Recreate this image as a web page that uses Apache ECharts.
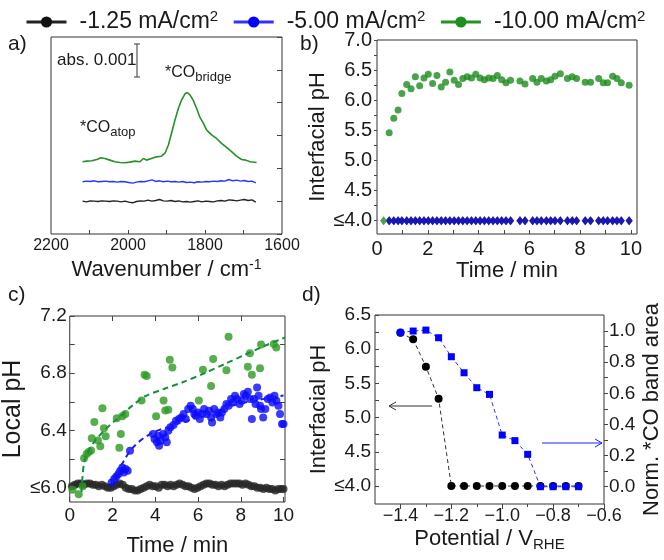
<!DOCTYPE html>
<html><head><meta charset="utf-8">
<script src="https://cdn.jsdelivr.net/npm/echarts@6/dist/echarts.min.js"></script>
<style>html,body{margin:0;padding:0;background:#fff}#c{width:664px;height:560px}</style>
</head><body><div id="c"></div><script>
// ---------- data ----------
const legendNames = ['-1.25 mA/cm2', '-5.00 mA/cm2', '-10.00 mA/cm2'];

// panel a: spectra [wavenumber, offset absorbance (units of 0.001)]
const specBlack = [[2118,1.00],[2108,0.98],[2098,1.01],[2088,1.00],[2078,0.99],[2068,1.01],[2058,1.00],[2048,0.99],[2038,1.01],[2028,1.00],[2018,0.98],[2008,1.00],[1998,0.97],[1988,0.95],[1978,0.99],[1968,1.01],[1958,1.00],[1948,1.03],[1938,1.00],[1928,1.02],[1918,1.05],[1908,1.01],[1898,1.00],[1888,1.02],[1878,0.99],[1868,1.01],[1858,0.98],[1848,0.99],[1838,0.97],[1828,0.99],[1818,1.01],[1808,0.98],[1798,1.00],[1788,0.99],[1778,0.98],[1768,1.01],[1758,1.02],[1748,1.00],[1738,1.04],[1728,1.03],[1718,1.01],[1708,1.03],[1698,1.05],[1688,1.02],[1678,1.04],[1668,0.97]];
const specBlue = [[2118,1.59],[2108,1.61],[2098,1.60],[2088,1.62],[2078,1.59],[2068,1.60],[2058,1.61],[2048,1.59],[2038,1.60],[2028,1.58],[2018,1.60],[2008,1.59],[1998,1.57],[1988,1.55],[1978,1.58],[1968,1.60],[1958,1.59],[1948,1.62],[1938,1.65],[1928,1.60],[1918,1.62],[1908,1.59],[1898,1.61],[1888,1.59],[1878,1.60],[1868,1.58],[1858,1.60],[1848,1.57],[1838,1.58],[1828,1.56],[1818,1.59],[1808,1.58],[1798,1.60],[1788,1.59],[1778,1.61],[1768,1.60],[1758,1.62],[1748,1.61],[1738,1.66],[1728,1.62],[1718,1.64],[1708,1.61],[1698,1.63],[1688,1.60],[1678,1.61],[1668,1.56]];
const specGreen = [[2118,2.20],[2107,2.22],[2094,2.23],[2081,2.27],[2070,2.32],[2060,2.30],[2047,2.25],[2034,2.20],[2021,2.18],[2008,2.17],[1995,2.19],[1982,2.22],[1969,2.20],[1960,2.30],[1952,2.25],[1939,2.30],[1926,2.35],[1913,2.37],[1904,2.46],[1895,2.71],[1887,3.07],[1878,3.47],[1869,3.83],[1861,4.08],[1852,4.27],[1846,4.31],[1839,4.24],[1830,4.06],[1822,3.83],[1813,3.55],[1804,3.37],[1796,3.17],[1783,3.02],[1770,2.91],[1757,2.76],[1744,2.64],[1731,2.51],[1718,2.37],[1705,2.27],[1694,2.25],[1683,2.20],[1666,2.18]];

// panel b: interfacial pH vs time
const bTime = [0.48,0.66,0.83,0.98,1.17,1.34,1.51,1.68,1.85,2.02,2.19,2.36,2.53,2.70,2.87,3.04,3.21,3.38,3.55,3.72,3.89,4.06,4.23,4.40,4.57,4.74,4.91,5.08,5.26,5.63,5.83,6.13,6.30,6.47,6.67,6.84,7.01,7.22,7.50,7.69,7.86,8.20,8.41,8.73,8.91,9.08,9.28,9.45,9.62,9.93];
const bGreen = [5.46,5.70,5.84,6.11,6.26,6.19,6.39,6.24,6.37,6.43,6.28,6.41,6.22,6.30,6.47,6.33,6.26,6.36,6.39,6.37,6.43,6.37,6.34,6.37,6.36,6.41,6.34,6.29,6.33,6.32,6.27,6.36,6.30,6.36,6.32,6.34,6.40,6.44,6.36,6.39,6.36,6.30,6.30,6.36,6.29,6.29,6.40,6.36,6.29,6.25];
const bGreenStart = [0.26, 4.0];
const bBlue = [4,4,4,4,4,4,4,4,4,4,4,4,4,4,4,4,4,4,4,4,4,4,4,4,4,4,4,4,4,4,4,4,4,4,4,4,4,4,4,4,4,4,4,4,4,4,4,4,4,4];
const bBlack = [4,4,4,4,4,4,4,4,4,4,4,4,4,4,4,4,4,4,4,4,4,4,4,4,4,4,4,4,4,4,4,4,4,4,4,4,4,4,4,4,4,4,4,4,4,4,4,4,4,4];

// panel c: local pH vs time [t, pH]
const cBlack = [[0.10,6.01],[0.24,6.02],[0.38,6.03],[0.52,6.03],[0.66,6.02],[0.80,6.03],[0.94,6.03],[1.08,6.02],[1.22,6.02],[1.36,6.01],[1.50,6.02],[1.64,6.01],[1.78,6.00],[1.92,6.00],[2.06,6.01],[2.20,6.02],[2.34,6.03],[2.48,6.02],[2.62,6.00],[2.76,5.99],[2.90,5.99],[3.04,5.98],[3.18,5.98],[3.32,5.99],[3.46,6.00],[3.60,6.01],[3.74,6.02],[3.88,6.01],[4.02,6.01],[4.16,6.00],[4.30,6.02],[4.44,6.02],[4.58,6.01],[4.72,6.02],[4.86,6.01],[5.00,6.02],[5.14,6.03],[5.28,6.02],[5.42,6.01],[5.56,6.01],[5.70,6.00],[5.84,5.99],[5.98,6.00],[6.12,6.01],[6.26,6.02],[6.40,6.03],[6.54,6.03],[6.68,6.02],[6.82,6.02],[6.96,6.01],[7.10,6.02],[7.24,6.01],[7.38,6.02],[7.52,6.03],[7.66,6.03],[7.80,6.03],[7.94,6.03],[8.08,6.02],[8.22,6.03],[8.36,6.02],[8.50,6.01],[8.64,6.01],[8.78,6.00],[8.92,6.00],[9.06,5.99],[9.20,6.00],[9.34,5.99],[9.48,5.99],[9.62,5.98],[9.76,5.99],[9.90,5.99],[10.0,5.99]];
const cBlue = [[1.96,6.037],[2.08,6.06],[2.18,6.079],[2.28,6.095],[2.36,6.119],[2.46,6.142],[2.53,6.107],[2.61,6.13],[2.71,6.119],[2.82,6.258],[3.895,6.375],[3.966,6.34],[4.081,6.317],[4.138,6.363],[4.181,6.293],[4.253,6.328],[4.367,6.375],[4.468,6.352],[4.539,6.317],[4.611,6.398],[4.711,6.422],[4.854,6.438],[4.969,6.468],[5.112,6.48],[5.226,6.491],[5.326,6.515],[5.426,6.48],[5.541,6.55],[5.656,6.573],[5.756,6.55],[5.828,6.515],[5.899,6.503],[6.0,6.526],[6.085,6.48],[6.186,6.515],[6.286,6.55],[6.4,6.515],[6.515,6.538],[6.615,6.491],[6.658,6.456],[6.758,6.55],[6.859,6.515],[6.945,6.526],[7.045,6.491],[7.116,6.526],[7.231,6.55],[7.331,6.585],[7.431,6.573],[7.546,6.62],[7.632,6.596],[7.732,6.643],[7.832,6.62],[7.947,6.585],[8.047,6.608],[8.147,6.655],[8.233,6.643],[8.333,6.671],[8.433,6.62],[8.52,6.48],[8.62,6.62],[8.691,6.585],[8.763,6.701],[8.835,6.643],[8.906,6.573],[8.95,6.55],[9.049,6.491],[9.15,6.55],[9.264,6.62],[9.379,6.631],[9.479,6.596],[9.579,6.643],[9.665,6.608],[9.765,6.573],[9.837,6.515],[9.93,6.445],[10.0,6.445]];
const cGreen = [[0.13,5.985],[0.42,5.955],[0.6,6.01],[0.67,6.205],[0.79,6.235],[0.89,6.25],[1.0,6.26],[1.03,6.345],[1.15,6.46],[1.32,6.33],[1.43,6.29],[1.53,6.555],[1.6,6.415],[1.68,6.36],[2.2,6.485],[2.32,6.28],[2.39,6.375],[2.46,6.5],[2.6,6.515],[3.36,6.61],[3.5,6.79],[3.6,6.78],[4.04,6.5],[4.39,6.61],[4.47,6.54],[4.61,6.545],[4.68,6.895],[4.8,6.84],[6.04,6.61],[6.23,6.825],[6.61,6.71],[6.71,6.9],[7.33,6.82],[7.43,7.055],[8.33,6.845],[8.43,6.94],[8.52,6.79],[8.9,6.835],[8.95,7.0],[9.55,7.005],[9.66,6.98]];
const cGreenFit = [[0.55,5.97],[0.60,6.08],[0.68,6.18],[0.85,6.25],[1.2,6.33],[1.75,6.42],[2.25,6.485],[2.9,6.57],[3.54,6.64],[4.4,6.69],[5.25,6.735],[6.3,6.80],[7.26,6.865],[8.2,6.93],[9.1,6.99],[10.07,7.05]];
const cBlueFit = [[1.95,6.03],[2.2,6.10],[2.5,6.18],[2.89,6.27],[3.4,6.34],[3.96,6.39],[4.7,6.43],[5.54,6.47],[6.5,6.52],[7.55,6.573],[8.7,6.61],[10.0,6.645]];

// panel d: potential dependence
const dPotential = [-1.4,-1.35,-1.3,-1.25,-1.2,-1.15,-1.1,-1.05,-1.0,-0.95,-0.9,-0.85,-0.8,-0.75,-0.7];
const dPH = [6.24,6.145,5.745,5.276,4.0,4.0,4.0,4.0,4.0,4.0,4.0,4.0,4.0,4.0,4.0];
const dCO = [0.99,1.0,1.006,0.957,0.835,0.732,0.636,0.593,0.332,0.296,0.208,0.0,0.0,0.0,0.0];

// tick labels
const aTickLabels = [2200,2000,1800,1600];
const aTicks = [2100,2000,1900,1800,1700];
const bXLabels = [0,2,4,6,8,10];
const bXTicks = [1,2,3,4,5,6,7,8,9,10];
const bYLabels = [4,4.5,5,5.5,6,6.5,7];
const bYTicks = [4,4.25,4.5,4.75,5,5.25,5.5,5.75,6,6.25,6.5,6.75,7];
const cXLabels = [0,2,4,6,8,10];
const cYLabels = [6.0,6.4,6.8,7.2];
const cYTicks = [6.0,6.2,6.4,6.6,6.8,7.0,7.2];
const dXLabels = [-1.4,-1.2,-1.0,-0.8,-0.6];
const dXMinor = [-1.3,-1.1,-0.9,-0.7];
const dYLabels = [4,4.5,5,5.5,6,6.5];
const dYTicks = [4,4.25,4.5,4.75,5,5.25,5.5,5.75,6,6.25,6.5];
const dY2Labels = [0,0.2,0.4,0.6,0.8,1.0];
const dY2Ticks = [0,0.1,0.2,0.3,0.4,0.5,0.6,0.7,0.8,0.9,1.0];

// ---------- chart ----------
const FONT = '"Liberation Sans", Arial, sans-serif';
const BLACK = '#111111', BLUE = '#0000ff', GREEN = '#1f8f1f';
const TXT = '#1a1a1a', AX = '#444';
const chart = echarts.init(document.getElementById('c'), null, {renderer: 'canvas'});

const pts = (xs, ys) => xs.map((x, i) => [x, ys[i]]);
const NOLINE = {show: false, onZero: false};

function gridStyle(o) { return Object.assign({show: true, borderColor: '#333', borderWidth: 1, containLabel: false}, o); }
const nameStyle = (size) => ({fontSize: size, color: TXT, fontFamily: FONT,
  rich: {sup: {fontSize: 14, fontFamily: FONT, color: TXT, padding: [0,0,10,0]},
         sub: {fontSize: 15, fontFamily: FONT, color: TXT, padding: [11,0,0,0]}}});

const option = {
  animation: false,
  backgroundColor: '#fff',
  textStyle: {fontFamily: FONT},
  legend: {
    data: legendNames, top: 4, left: 20, width: 644, itemWidth: 40, itemHeight: 14, itemGap: 14,
    selectedMode: false, lineStyle: {width: 3},
    formatter: n => n.replace('cm2', 'cm{sup|2}'),
    textStyle: {fontSize: 23, color: TXT, fontFamily: FONT, padding: [0,0,0,8],
      rich: {sup: {fontSize: 15, fontFamily: FONT, color: TXT, padding: [0,0,11,0]}}}
  },
  grid: [
    gridStyle({left: 51, top: 37, width: 231, height: 197}),
    gridStyle({left: 377, top: 40, width: 260, height: 194}),
    gridStyle({left: 51, top: 316, width: 234, height: 186}),
    gridStyle({left: 375, top: 315, width: 235, height: 189})
  ],
  xAxis: [
    {gridIndex: 0, type: 'value', inverse: true, min: 1600, max: 2200,
     axisLine: NOLINE, splitLine: {show: false},
     axisTick: {inside: true, length: 4, customValues: aTicks, lineStyle: {color: AX}},
     axisLabel: {customValues: aTickLabels, fontSize: 16, color: TXT, margin: 4, formatter: v => String(v)},
     name: 'Wavenumber / cm{sup|-1}', nameLocation: 'middle', nameGap: 24, nameTextStyle: nameStyle(22)},
    {gridIndex: 1, type: 'value', position: 'bottom', min: 0, max: 10.24,
     axisLine: NOLINE, splitLine: {show: false},
     axisTick: {inside: true, length: 4, customValues: bXTicks, lineStyle: {color: AX}},
     axisLabel: {customValues: bXLabels, fontSize: 20, color: TXT, margin: 5, formatter: v => String(v)},
     name: 'Time / min', nameLocation: 'middle', nameGap: 26, nameTextStyle: nameStyle(22)},
    {gridIndex: 2, type: 'value', position: 'bottom', min: 0, max: 10.07,
     axisLine: NOLINE, splitLine: {show: false},
     axisTick: {inside: true, length: 5, customValues: cXLabels, lineStyle: {color: AX}},
     axisLabel: {customValues: cXLabels, fontSize: 19, color: TXT, margin: 4, formatter: v => String(v)},
     name: 'Time / min', nameLocation: 'middle', nameGap: 33, nameTextStyle: nameStyle(22)},
    {gridIndex: 2, type: 'value', position: 'top', min: 0, max: 10.07,
     axisLine: NOLINE, splitLine: {show: false},
     axisTick: {inside: true, length: 5, customValues: [2,4,6,8], lineStyle: {color: AX}},
     axisLabel: {show: false}},
    {gridIndex: 3, type: 'value', position: 'bottom', min: -1.5, max: -0.6,
     axisLine: NOLINE, splitLine: {show: false},
     axisTick: {inside: false, length: 5, customValues: dXLabels, lineStyle: {color: AX}},
     axisLabel: {customValues: dXLabels, fontSize: 18, color: TXT, margin: 3,
       formatter: v => v.toFixed(1).replace('-', '\u2212')},
     name: 'Potential / V{sub|RHE}', nameLocation: 'middle', nameGap: 22, nameTextStyle: nameStyle(22)},
    {gridIndex: 3, type: 'value', position: 'bottom', offset: 0, min: -1.5, max: -0.6,
     axisLine: NOLINE, splitLine: {show: false},
     axisTick: {inside: false, length: 3, customValues: dXMinor, lineStyle: {color: AX}},
     axisLabel: {show: false}}
  ],
  yAxis: [
    {gridIndex: 0, type: 'value', position: 'right', min: 0, max: 6, interval: 1,
     axisLine: NOLINE, splitLine: {show: false},
     axisTick: {inside: true, length: 5, lineStyle: {color: AX}},
     axisLabel: {show: false}},
    {gridIndex: 1, type: 'value', position: 'left', min: 3.78, max: 7.0,
     axisLine: NOLINE, splitLine: {show: false},
     axisTick: {inside: false, length: 3, customValues: bYTicks, lineStyle: {color: AX}},
     axisLabel: {customValues: bYLabels, fontSize: 20, color: TXT, margin: 5,
       formatter: v => Math.abs(v - 4) < 1e-9 ? '≤4.0' : v.toFixed(1)},
     name: 'Interfacial pH', nameLocation: 'middle', nameRotate: 90, nameGap: 42, nameTextStyle: nameStyle(22)},
    {gridIndex: 2, type: 'value', position: 'left', min: 5.9, max: 7.2,
     axisLine: NOLINE, splitLine: {show: false},
     axisTick: {inside: true, length: 5, customValues: cYTicks, lineStyle: {color: AX}},
     axisLabel: {customValues: cYLabels, fontSize: 19, color: TXT, margin: 3,
       formatter: v => Math.abs(v - 6) < 1e-9 ? '≤6.0' : v.toFixed(1)},
     name: 'Local pH', nameLocation: 'middle', nameRotate: 90, nameGap: 22, nameTextStyle: nameStyle(25)},
    {gridIndex: 2, type: 'value', position: 'right', min: 5.9, max: 7.2,
     axisLine: NOLINE, splitLine: {show: false},
     axisTick: {inside: true, length: 5, customValues: [6.2,6.6,7.0], lineStyle: {color: AX}},
     axisLabel: {show: false}},
    {gridIndex: 3, type: 'value', position: 'left', min: 3.737, max: 6.5,
     axisLine: NOLINE, splitLine: {show: false},
     axisTick: {inside: true, length: 4, customValues: dYTicks, lineStyle: {color: AX}},
     axisLabel: {customValues: dYLabels, fontSize: 19, color: TXT, margin: 4,
       formatter: v => Math.abs(v - 4) < 1e-9 ? '≤4.0' : v.toFixed(1)},
     name: 'Interfacial pH', nameLocation: 'middle', nameRotate: 90, nameGap: 42, nameTextStyle: nameStyle(22)},
    {gridIndex: 3, type: 'value', position: 'right', min: -0.111, max: 1.103,
     axisLine: NOLINE, splitLine: {show: false},
     axisTick: {inside: false, length: 4, customValues: dY2Ticks, lineStyle: {color: AX}},
     axisLabel: {customValues: dY2Labels, fontSize: 19, color: TXT, margin: 5,
       formatter: v => v.toFixed(1)},
     name: 'Norm. *CO band area', nameLocation: 'middle', nameRotate: 90, nameGap: 37, nameTextStyle: nameStyle(22)}
  ],
  series: [
    // panel a
    {name: legendNames[0], type: 'line', xAxisIndex: 0, yAxisIndex: 0, data: specBlack, symbol: 'circle', showSymbol: false, color: BLACK, lineStyle: {width: 1.4, color: '#222'}},
    {name: legendNames[1], type: 'line', xAxisIndex: 0, yAxisIndex: 0, data: specBlue, symbol: 'circle', showSymbol: false, color: BLUE, lineStyle: {width: 1.4, color: '#3030ff'}},
    {name: legendNames[2], type: 'line', xAxisIndex: 0, yAxisIndex: 0, data: specGreen, symbol: 'circle', showSymbol: false, color: GREEN, lineStyle: {width: 1.6, color: '#259225'}},
    // panel b
    {name: legendNames[0], type: 'scatter', xAxisIndex: 1, yAxisIndex: 1, data: pts(bTime, bBlack), symbol: 'diamond', symbolSize: [7, 9], itemStyle: {color: BLACK}},
    {name: legendNames[1], type: 'scatter', xAxisIndex: 1, yAxisIndex: 1, data: pts(bTime, bBlue), symbol: 'diamond', symbolSize: [7, 9], itemStyle: {color: '#1010d0'}},
    {name: legendNames[2], type: 'scatter', xAxisIndex: 1, yAxisIndex: 1, data: [{value: bGreenStart, symbol: 'diamond', symbolSize: [7, 9]}].concat(pts(bTime, bGreen)), symbolSize: 7, itemStyle: {color: '#1c8c1c'}},
    // panel c
    {name: legendNames[0], type: 'scatter', xAxisIndex: 2, yAxisIndex: 2, data: cBlack, symbolSize: 8, itemStyle: {color: '#262626'}},
    {name: legendNames[1], type: 'scatter', xAxisIndex: 2, yAxisIndex: 2, data: cBlue, symbolSize: 8, itemStyle: {color: '#0a0aff'}},
    {name: legendNames[2], type: 'scatter', xAxisIndex: 2, yAxisIndex: 2, data: cGreen, symbolSize: 8, itemStyle: {color: '#2e9a22'}},
    {name: 'fit -10', type: 'line', xAxisIndex: 2, yAxisIndex: 2, data: cGreenFit, showSymbol: false, smooth: 0.3, lineStyle: {color: '#15913a', width: 2, type: [6, 4]}},
    {name: 'fit -5', type: 'line', xAxisIndex: 2, yAxisIndex: 2, data: cBlueFit, showSymbol: false, smooth: 0.3, lineStyle: {color: '#1a1aff', width: 2, type: [6, 4]}},
    // panel d
    {name: 'pH vs E', type: 'line', xAxisIndex: 4, yAxisIndex: 4, data: pts(dPotential, dPH), symbol: 'circle', symbolSize: 8, itemStyle: {color: '#000'}, lineStyle: {color: '#333', width: 1, type: [4, 3]}},
    {name: 'CO vs E', type: 'line', xAxisIndex: 4, yAxisIndex: 5,
     data: pts(dPotential, dCO).map((p, i) => i === 0 ? {value: p, symbol: 'circle', symbolSize: 8} : p),
     symbol: 'rect', symbolSize: 7, itemStyle: {color: '#0000ff'}, lineStyle: {color: '#3030ff', width: 1, type: [4, 3]}}
  ],
  graphic: [
    {type: 'text', left: 8, top: 34, style: {text: 'a)', fontSize: 21, fontFamily: FONT, fill: TXT}},
    {type: 'text', left: 300, top: 34, style: {text: 'b)', fontSize: 21, fontFamily: FONT, fill: TXT}},
    {type: 'text', left: 8, top: 285, style: {text: 'c)', fontSize: 21, fontFamily: FONT, fill: TXT}},
    {type: 'text', left: 302, top: 285, style: {text: 'd)', fontSize: 21, fontFamily: FONT, fill: TXT}},
    {type: 'text', left: 57, top: 52, style: {text: 'abs. 0.001', fontSize: 17, fontFamily: FONT, fill: TXT}},
    {type: 'polyline', shape: {points: [[137, 44], [137, 77]]}, style: {stroke: '#555', lineWidth: 1.2}},
    {type: 'polyline', shape: {points: [[134, 44], [140, 44]]}, style: {stroke: '#555', lineWidth: 1.2}},
    {type: 'polyline', shape: {points: [[134, 77], [140, 77]]}, style: {stroke: '#555', lineWidth: 1.2}},
    {type: 'text', left: 165, top: 65, style: {text: '*CO{s|bridge}', fontSize: 16, fontFamily: FONT, fill: TXT,
      rich: {s: {fontSize: 13, fontFamily: FONT, fill: TXT, padding: [9, 0, 0, 0]}}}},
    {type: 'text', left: 80, top: 120, style: {text: '*CO{s|atop}', fontSize: 16, fontFamily: FONT, fill: TXT,
      rich: {s: {fontSize: 13, fontFamily: FONT, fill: TXT, padding: [9, 0, 0, 0]}}}},
    {type: 'polyline', shape: {points: [[432, 406], [389, 406]]}, style: {stroke: '#333', lineWidth: 1}},
    {type: 'polyline', shape: {points: [[396, 402], [389, 406], [396, 410]]}, style: {stroke: '#333', fill: null, lineWidth: 1}},
    {type: 'polyline', shape: {points: [[542, 443], [602, 443]]}, style: {stroke: '#2020ff', lineWidth: 1}},
    {type: 'polyline', shape: {points: [[595, 439], [602, 443], [595, 447]]}, style: {stroke: '#2020ff', fill: null, lineWidth: 1}}
  ]
};
chart.setOption(option);
</script></body></html>
